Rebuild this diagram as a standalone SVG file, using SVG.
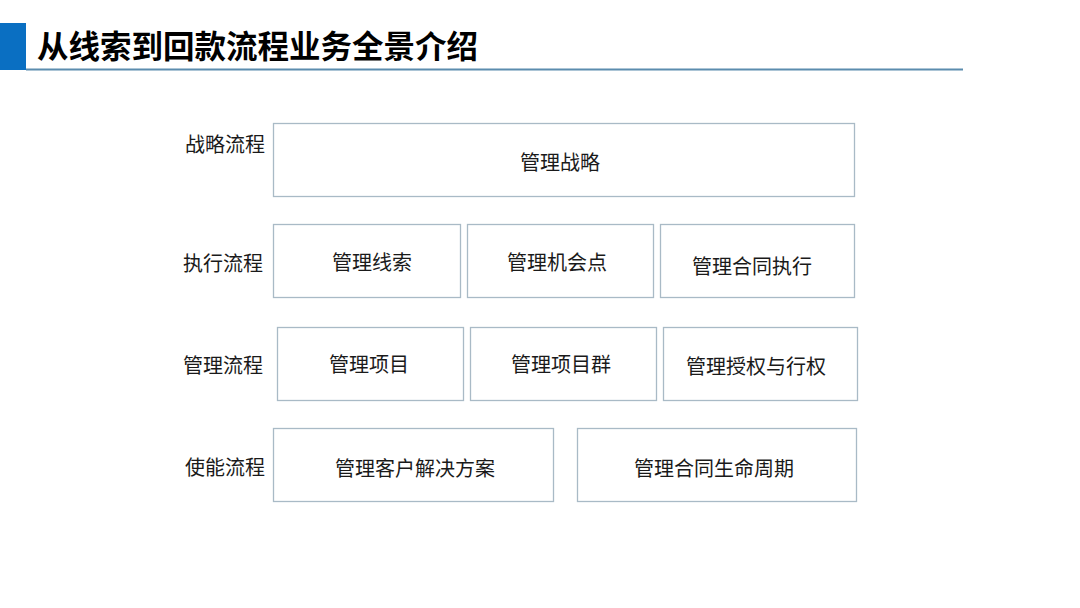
<svg xmlns="http://www.w3.org/2000/svg" width="1080" height="608" viewBox="0 0 1080 608">
<style>
.box{fill:#ffffff;stroke:#a9bac6;stroke-width:1.3}
.t{font-family:"Microsoft YaHei","Noto Sans CJK SC","Noto Sans",sans-serif;font-size:20px;fill:#1a1a1a;text-anchor:middle;dominant-baseline:central}
.lbl{font-family:"Microsoft YaHei","Noto Sans CJK SC","Noto Sans",sans-serif;font-size:20px;fill:#1a1a1a;text-anchor:end;dominant-baseline:central}
.title{font-family:"Noto Sans CJK SC","Noto Sans",sans-serif;font-size:31.5px;font-weight:bold;fill:#000}
</style>
<rect width="1080" height="608" fill="#ffffff"/>
<g id="header">
<rect x="0" y="23" width="26" height="47" fill="#0a6fc2"/>
<line x1="26" y1="69.5" x2="963" y2="69.5" stroke="#5b8cae" stroke-width="2"/>
<text class="title" x="37" y="58">从线索到回款流程业务全景介绍</text>
</g>
<g id="labels">
<text class="lbl" x="265" y="143">战略流程</text>
<text class="lbl" x="263" y="262">执行流程</text>
<text class="lbl" x="263" y="364">管理流程</text>
<text class="lbl" x="265" y="466">使能流程</text>
</g>
<g id="n1"><rect class="box" x="273.5" y="123.5" width="581" height="73"/><text class="t" x="560" y="161">管理战略</text></g>
<g id="n2"><rect class="box" x="273.5" y="224.5" width="187" height="73"/><text class="t" x="372" y="261">管理线索</text></g>
<g id="n3"><rect class="box" x="467.5" y="224.5" width="186" height="73"/><text class="t" x="557" y="261">管理机会点</text></g>
<g id="n4"><rect class="box" x="660.5" y="224.5" width="194" height="73"/><text class="t" x="752" y="265">管理合同执行</text></g>
<g id="n5"><rect class="box" x="277.5" y="327.5" width="186" height="73"/><text class="t" x="369" y="363">管理项目</text></g>
<g id="n6"><rect class="box" x="470.5" y="327.5" width="186" height="73"/><text class="t" x="561" y="363">管理项目群</text></g>
<g id="n7"><rect class="box" x="663.5" y="327.5" width="194" height="73"/><text class="t" x="756" y="365">管理授权与行权</text></g>
<g id="n8"><rect class="box" x="273.5" y="428.5" width="280" height="73"/><text class="t" x="415" y="467">管理客户解决方案</text></g>
<g id="n9"><rect class="box" x="577.5" y="428.5" width="279" height="73"/><text class="t" x="714" y="467">管理合同生命周期</text></g>
<g id="connectors"></g>
</svg>
